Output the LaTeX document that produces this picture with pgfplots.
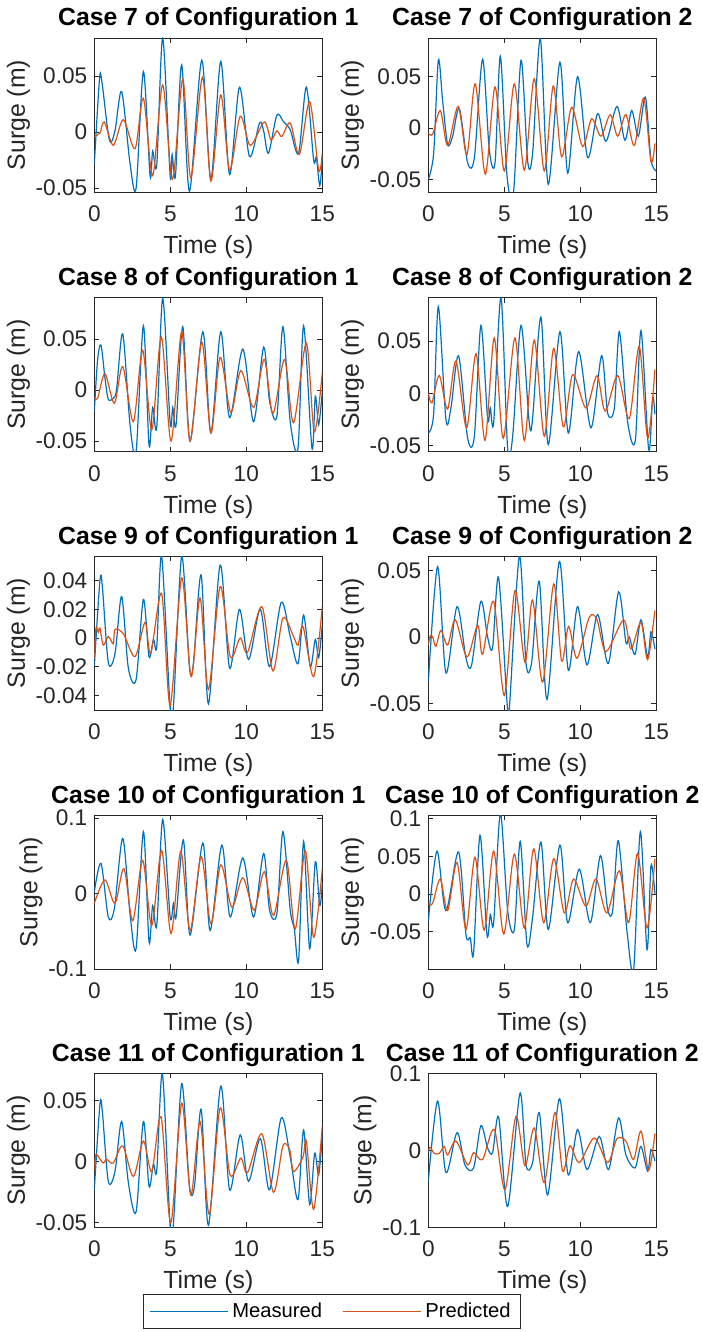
\documentclass[border=0pt]{standalone}
\usepackage{fontspec}
\setmainfont{Liberation Sans}
\usepackage{pgfplots}
\pgfplotsset{compat=1.18}

\definecolor{mblue}{rgb}{0,0.447,0.741}
\definecolor{morange}{rgb}{0.850,0.325,0.098}
\definecolor{axgray}{rgb}{0.15,0.15,0.15}

\newcommand{\ticksize}{\fontsize{11.3}{13}\selectfont}
\newcommand{\labsize}{\fontsize{12.4}{14}\selectfont}
\newcommand{\titsize}{\bfseries\fontsize{12.4}{14}\selectfont}
\newcommand{\legsize}{\fontsize{10.1}{12}\selectfont}

\tikzset{
  meas/.style={color=mblue, line width=0.6pt},
  pred/.style={color=morange, line width=0.6pt},
}

% legend sample drawn on the basic layer so the legend frame colour cannot override it
\newcommand{\legline}[1]{\pgfsetlinewidth{0.6pt}\pgfsetstrokecolor{#1}%
  \pgfpathmoveto{\pgfqpoint{0pt}{0pt}}\pgfpathlineto{\pgfqpoint{39pt}{0pt}}\pgfusepath{stroke}}

\pgfplotsset{
  panel/.style={
    scale only axis, width=114pt, height=77pt, anchor=north west,
    xmin=0, xmax=15, xtick={0,5,10,15}, xticklabels={0,5,10,15},
    scaled y ticks=false,
    tick align=inside, major tick length=2.5pt,
    axis line style={draw=axgray}, every tick/.style={draw=axgray},
    tick label style={font=\ticksize, text=axgray},
    xticklabel style={yshift=-3.4pt},
    xlabel={Time (s)}, ylabel={Surge (m)},
    label style={font=\labsize, text=axgray},
    ylabel shift=-4pt,
    title style={font=\titsize, at={(0.5,1)}, anchor=base, yshift=0pt},
    every axis plot/.append style={smooth, tension=0.5},
  },
  fivesteps/.style={ytick={-0.05,0,0.05}, yticklabels={-0.05,0,0.05}},
}

\begin{document}
\begin{tikzpicture}
\useasboundingbox (0,0) rectangle (351pt,-666pt);

% ---------- row 1 ----------
\begin{axis}[panel, at={(47.15pt,-19pt)}, title={Case 7 of Configuration 1},
  ymin=-0.0536, ymax=0.0839, fivesteps]
\addplot[meas] coordinates {
(0,-0.029) (0.33,0.045) (0.48,0.047) (0.99,-0.007) (1.36,0.001) (1.80,0.036)
(2.35,-0.028) (2.75,-0.050) (3.23,0.054) (3.67,-0.039) (3.84,-0.017) (4.11,-0.029)
(4.50,0.084) (4.99,-0.039) (5.12,-0.020) (5.34,-0.039) (5.75,0.060) (6.26,-0.053)
(7.07,0.064) (7.67,-0.042) (8.32,0.063) (8.90,-0.038) (9.55,0.040) (10.21,-0.022)
(10.87,0.008) (11.14,0.001) (11.46,-0.019) (12.01,0.015) (12.45,0.009) (12.89,0.002)
(13.44,-0.019) (13.95,0.040) (14.43,-0.025) (14.61,-0.023) (14.83,-0.048) (15.0,-0.025)};
\addplot[pred] coordinates {
(0,-0.004) (0.37,-0.001) (0.66,0.009) (1.25,-0.012) (1.91,0.011) (2.68,-0.015)
(3.23,0.030) (3.84,-0.039) (4.50,0.042) (5.14,-0.042) (5.82,0.047) (6.35,-0.041)
(7.12,0.049) (7.67,-0.044) (8.32,0.033) (8.90,-0.034) (9.60,0.014) (10.26,-0.012)
(11.18,0.009) (11.62,-0.007) (12.01,0.001) (12.34,-0.004) (12.89,0.008) (13.49,-0.020)
(14.17,0.027) (14.76,-0.034) (15.0,-0.019)};
\end{axis}

\begin{axis}[panel, at={(214.15pt,-19pt)}, title={Case 7 of Configuration 2},
  ymin=-0.0624, ymax=0.0877, fivesteps]
\addplot[meas] coordinates {
(0,-0.050) (0.35,-0.025) (0.66,0.066) (0.94,0.027) (1.27,-0.016) (1.60,-0.008)
(2.04,0.019) (2.59,-0.034) (3.03,-0.029) (3.57,0.067) (4.01,-0.021) (4.39,-0.034)
(4.74,0.070) (5.18,-0.047) (5.61,-0.062) (6.10,0.066) (6.54,-0.033) (6.86,-0.025)
(7.37,0.087) (7.89,-0.055) (8.66,0.064) (9.17,-0.044) (9.82,0.050) (10.48,-0.029)
(11.14,0.014) (11.69,-0.013) (12.41,0.021) (12.94,-0.012) (13.38,0.017) (13.82,-0.008)
(14.28,0.030) (14.65,-0.031) (15.0,-0.042)};
\addplot[pred] coordinates {
(0,-0.005) (0.29,-0.006) (0.79,0.017) (1.27,-0.017) (1.97,0.021) (2.54,-0.026)
(3.09,0.043) (3.75,-0.045) (4.39,0.040) (5.00,-0.042) (5.66,0.043) (6.32,-0.041)
(6.97,0.048) (7.63,-0.042) (8.22,0.041) (8.77,-0.028) (9.43,0.020) (10.15,-0.018)
(10.75,0.009) (11.36,-0.008) (11.97,0.013) (12.46,-0.008) (13.00,0.013) (13.55,-0.017)
(14.17,0.029) (14.65,-0.033) (14.91,-0.015)};
\end{axis}

% ---------- row 2 ----------
\begin{axis}[panel, at={(47.15pt,-148.85pt)}, title={Case 8 of Configuration 1},
  ymin=-0.0604, ymax=0.0904, fivesteps]
\addplot[meas] coordinates {
(0,-0.021) (0.22,0.030) (0.44,0.044) (0.70,0.012) (0.92,-0.009) (1.25,-0.008)
(1.47,0.001) (1.87,0.055) (2.35,-0.034) (2.75,-0.060) (3.23,0.063) (3.60,-0.054)
(3.84,-0.017) (4.11,-0.036) (4.50,0.090) (4.99,-0.032) (5.16,-0.017) (5.38,-0.034)
(5.82,0.062) (6.30,-0.050) (7.14,0.057) (7.67,-0.042) (8.32,0.057) (8.90,-0.027)
(9.77,0.040) (10.48,-0.031) (11.14,0.042) (11.53,-0.011) (12.01,-0.026) (12.41,0.062)
(12.89,-0.031) (13.40,-0.057) (13.77,0.063) (14.32,-0.057) (14.54,-0.006) (14.76,-0.034)
(15.0,-0.001)};
\addplot[pred] coordinates {
(0,-0.007) (0.22,-0.008) (0.70,0.016) (1.32,-0.013) (1.87,0.023) (2.57,-0.031)
(3.18,0.039) (3.78,-0.039) (4.41,0.052) (5.05,-0.050) (5.75,0.057) (6.30,-0.050)
(7.07,0.047) (7.67,-0.042) (8.28,0.032) (8.98,-0.022) (9.64,0.019) (10.48,-0.017)
(11.18,0.030) (11.75,-0.023) (12.52,0.030) (13.11,-0.032) (13.95,0.046) (14.47,-0.041)
(15.0,0.017)};
\end{axis}

\begin{axis}[panel, at={(214.15pt,-148.85pt)}, title={Case 8 of Configuration 2},
  ymin=-0.0558, ymax=0.0915, fivesteps]
\addplot[meas] coordinates {
(0,-0.038) (0.35,-0.020) (0.66,0.083) (1.16,-0.025) (1.49,-0.014) (1.99,0.036)
(2.59,-0.043) (3.03,-0.041) (3.46,0.065) (3.90,-0.024) (4.08,-0.014) (4.30,-0.028)
(4.78,0.092) (5.22,-0.053) (5.55,-0.041) (6.10,0.065) (6.64,-0.028) (6.86,-0.024)
(7.41,0.073) (7.89,-0.049) (8.66,0.059) (9.21,-0.038) (9.89,0.040) (10.70,-0.033)
(11.40,0.036) (11.80,-0.019) (12.24,-0.014) (12.57,0.059) (13.11,-0.027) (13.62,-0.045)
(13.99,0.060) (14.50,-0.054) (14.76,-0.004) (14.91,-0.020)};
\addplot[pred] coordinates {
(0,0.000) (0.24,-0.009) (0.72,0.017) (1.27,-0.015) (1.82,0.031) (2.52,-0.033)
(3.14,0.038) (3.73,-0.045) (4.34,0.053) (4.93,-0.043) (5.70,0.053) (6.32,-0.045)
(6.97,0.051) (7.63,-0.041) (8.25,0.043) (8.88,-0.032) (9.50,0.018) (10.37,-0.014)
(11.10,0.017) (11.64,-0.017) (12.46,0.017) (13.22,-0.024) (13.88,0.045) (14.43,-0.043)
(14.91,0.023)};
\end{axis}

% ---------- row 3 ----------
\begin{axis}[panel, at={(47.15pt,-278pt)}, title={Case 9 of Configuration 1},
  ymin=-0.0503, ymax=0.0573, ytick={-0.04,-0.02,0,0.02,0.04},
  yticklabels={-0.04,-0.02,0,0.02,0.04}]
\addplot[meas] coordinates {
(0,-0.020) (0.37,0.040) (0.53,0.036) (0.92,-0.017) (1.36,-0.011) (1.80,0.029)
(2.24,-0.021) (2.75,-0.029) (3.23,0.027) (3.60,-0.013) (3.89,-0.001) (4.11,-0.006)
(4.43,0.057) (4.99,-0.049) (5.21,-0.047) (5.75,0.057) (6.26,-0.020) (6.52,-0.018)
(7.03,0.044) (7.51,-0.046) (8.28,0.051) (8.90,-0.021) (9.55,0.020) (10.15,-0.015)
(10.92,0.020) (11.53,-0.020) (12.30,0.025) (12.89,0.001) (13.40,-0.018) (13.77,0.016)
(14.21,-0.020) (14.54,-0.001) (14.76,-0.014) (15.0,0.009)};
\addplot[pred] coordinates {
(0,-0.014) (0.11,0.007) (0.26,0.004) (0.37,0.007) (0.59,-0.005) (0.92,0.001)
(1.25,-0.004) (1.36,0.006) (1.91,0.003) (2.68,-0.013) (3.34,0.011) (3.71,-0.011)
(4.43,0.031) (4.99,-0.047) (5.75,0.042) (6.37,-0.027) (6.96,0.028) (7.51,-0.036)
(8.28,0.036) (8.94,-0.013) (9.60,0.000) (10.08,-0.010) (11.02,0.022) (11.75,-0.023)
(12.41,0.014) (13.11,0.001) (13.40,-0.005) (13.73,0.008) (14.43,-0.027) (15.0,0.022)};
\end{axis}

\begin{axis}[panel, at={(214.15pt,-278pt)}, title={Case 9 of Configuration 2},
  ymin=-0.055, ymax=0.0611, fivesteps]
\addplot[meas] coordinates {
(0,-0.034) (0.61,0.053) (1.16,-0.027) (1.89,0.023) (2.48,-0.016) (2.85,-0.021)
(3.46,0.027) (3.90,0.000) (4.23,-0.008) (4.62,0.045) (5.18,-0.049) (5.33,-0.054)
(5.99,0.061) (6.43,-0.020) (6.80,-0.019) (7.30,0.042) (7.81,-0.047) (8.62,0.057)
(9.21,-0.025) (9.82,0.023) (10.44,-0.021) (11.14,0.017) (11.84,-0.020) (12.52,0.034)
(13.00,-0.004) (13.22,0.000) (13.60,-0.013) (13.99,0.013) (14.43,-0.015) (14.65,0.004)
(14.91,-0.009)};
\addplot[pred] coordinates {
(0,-0.006) (0.13,0.001) (0.29,0.000) (0.50,-0.007) (0.83,0.005) (1.27,-0.006)
(1.78,0.013) (2.54,-0.015) (3.25,0.009) (3.57,-0.013) (4.30,0.027) (5.00,-0.044)
(5.70,0.035) (6.36,-0.019) (6.86,0.028) (7.52,-0.034) (8.25,0.040) (8.77,-0.018)
(9.23,0.008) (9.78,-0.016) (10.59,0.015) (11.10,0.013) (11.69,-0.011) (12.85,0.013)
(13.33,-0.009) (13.99,0.011) (14.43,-0.017) (14.91,0.020)};
\end{axis}

% ---------- row 4 ----------
\begin{axis}[panel, at={(47.15pt,-407.5pt)}, title={Case 10 of Configuration 1},
  ymin=-0.1, ymax=0.104, ytick={-0.1,0,0.1}, yticklabels={-0.1,0,0.1}]
\addplot[meas] coordinates {
(0,0.002) (0.44,0.040) (0.92,-0.031) (1.32,-0.020) (1.87,0.073) (2.35,-0.027)
(2.75,-0.073) (3.23,0.082) (3.60,-0.064) (3.84,-0.016) (4.11,-0.042) (4.50,0.098)
(4.99,-0.031) (5.21,-0.013) (5.38,-0.031) (5.86,0.071) (6.30,-0.055) (7.14,0.067)
(7.62,-0.049) (8.39,0.064) (8.94,-0.031) (9.77,0.047) (10.48,-0.031) (11.14,0.053)
(11.53,-0.022) (12.01,-0.027) (12.41,0.082) (12.89,-0.022) (13.16,-0.047) (13.44,-0.089)
(13.77,0.069) (14.17,-0.073) (14.54,0.042) (14.83,-0.016) (15.0,0.013)};
\addplot[pred] coordinates {
(0,-0.013) (0.70,0.018) (1.36,-0.013) (1.95,0.033) (2.53,-0.036) (3.18,0.044)
(3.78,-0.042) (4.43,0.057) (5.05,-0.053) (5.69,0.056) (6.30,-0.049) (7.03,0.049)
(7.67,-0.040) (8.32,0.038) (9.05,-0.018) (9.77,0.021) (10.52,-0.022) (11.18,0.029)
(11.79,-0.029) (12.63,0.044) (13.22,-0.047) (13.88,0.057) (14.43,-0.058) (15.0,0.033)};
\end{axis}

\begin{axis}[panel, at={(214.15pt,-407.5pt)}, title={Case 10 of Configuration 2},
  ymin=-0.0995, ymax=0.105, ytick={-0.05,0,0.05,0.1},
  yticklabels={-0.05,0,0.05,0.1}]
\addplot[meas] coordinates {
(0,-0.036) (0.57,0.057) (1.16,-0.022) (1.99,0.056) (2.48,-0.054) (2.76,-0.058)
(2.98,-0.078) (3.40,0.078) (3.86,-0.054) (4.08,-0.027) (4.30,-0.038) (4.74,0.107)
(5.22,-0.022) (5.66,-0.047) (6.05,0.070) (6.49,-0.067) (6.86,-0.031) (7.41,0.069)
(7.89,-0.047) (8.66,0.065) (9.17,-0.038) (9.93,0.033) (10.66,-0.038) (11.32,0.051)
(11.80,-0.020) (12.13,-0.022) (12.50,0.071) (13.07,-0.049) (13.51,-0.100) (13.95,0.083)
(14.39,-0.074) (14.65,0.038) (14.91,0.000)};
\addplot[pred] coordinates {
(0,-0.013) (0.29,-0.012) (0.79,0.020) (1.27,-0.022) (1.89,0.042) (2.48,-0.047)
(3.07,0.049) (3.68,-0.048) (4.30,0.057) (4.96,-0.053) (5.66,0.053) (6.32,-0.045)
(6.93,0.060) (7.59,-0.038) (8.25,0.047) (8.95,-0.025) (9.56,0.020) (10.37,-0.016)
(11.03,0.020) (11.75,-0.025) (12.57,0.031) (13.18,-0.038) (13.77,0.054) (14.39,-0.045)
(14.91,0.047)};
\end{axis}

% ---------- row 5 ----------
\begin{axis}[panel, at={(47.15pt,-536.65pt)}, title={Case 11 of Configuration 1},
  ymin=-0.0537, ymax=0.0725, fivesteps,
  legend columns=2,
  legend style={at={(1.042,-0.546)}, anchor=center, font=\legsize,
    draw=axgray, inner xsep=3pt, inner ysep=2pt,
    /tikz/every even column/.append style={column sep=8pt}}]
\addplot[meas, legend image code/.code={\legline{mblue}}] coordinates {
(0,-0.023) (0.37,0.047) (0.53,0.041) (0.92,-0.016) (1.36,-0.008) (1.80,0.033)
(2.24,-0.017) (2.75,-0.041) (3.23,0.033) (3.60,-0.020) (3.89,-0.002) (4.11,-0.007)
(4.48,0.072) (4.99,-0.053) (5.21,-0.050) (5.75,0.064) (6.26,-0.020) (6.59,-0.020)
(7.03,0.043) (7.51,-0.052) (8.32,0.062) (8.90,-0.023) (9.60,0.022) (10.15,-0.016)
(10.92,0.019) (11.53,-0.023) (12.30,0.036) (12.89,0.004) (13.40,-0.031) (13.77,0.026)
(14.17,-0.035) (14.50,0.007) (14.76,-0.011) (15.0,0.022)};
\addlegendentry{Measured}
\addplot[pred, legend image code/.code={\legline{morange}}] coordinates {
(0,-0.007) (0.11,0.006) (0.33,0.003) (0.59,-0.001) (0.81,0.002) (1.25,-0.001)
(1.87,0.013) (2.57,-0.012) (3.23,0.017) (3.78,-0.008) (4.39,0.037) (5.03,-0.050)
(5.75,0.048) (6.35,-0.027) (6.96,0.033) (7.56,-0.043) (8.28,0.044) (8.94,-0.011)
(9.64,0.003) (10.08,-0.009) (11.02,0.023) (11.79,-0.025) (12.41,0.013) (12.85,0.010)
(13.11,-0.008) (13.73,0.004) (13.95,0.017) (14.43,-0.039) (15.0,0.029)};
\addlegendentry{Predicted}
\end{axis}

\begin{axis}[panel, at={(214.15pt,-536.65pt)}, title={Case 11 of Configuration 2},
  ymin=-0.1, ymax=0.1, ytick={-0.1,0,0.1}, yticklabels={-0.1,0,0.1}]
\addplot[meas] coordinates {
(0,-0.040) (0.61,0.064) (1.16,-0.029) (1.89,0.023) (2.41,-0.019) (2.98,-0.023)
(3.46,0.032) (3.90,0.003) (4.23,-0.003) (4.63,0.043) (5.22,-0.073) (6.03,0.074)
(6.43,-0.019) (6.86,-0.016) (7.30,0.049) (7.85,-0.058) (8.62,0.067) (9.21,-0.032)
(9.82,0.027) (10.44,-0.025) (11.25,0.018) (11.86,-0.025) (12.52,0.042) (13.00,-0.006)
(13.60,-0.023) (13.99,0.005) (14.43,-0.027) (14.65,0.001) (14.91,-0.014)};
\addplot[pred] coordinates {
(0,-0.001) (0.13,0.004) (0.39,-0.004) (0.72,-0.004) (1.05,0.005) (1.27,-0.006)
(1.82,0.012) (2.59,-0.019) (2.98,-0.003) (3.57,-0.012) (4.34,0.027) (5.04,-0.051)
(5.77,0.044) (6.36,-0.020) (6.97,0.029) (7.63,-0.042) (8.33,0.049) (8.84,-0.027)
(9.32,0.006) (9.93,-0.016) (10.92,0.016) (11.80,-0.016) (12.41,0.015) (13.00,0.012)
(13.51,-0.012) (13.99,0.025) (14.50,-0.026) (14.91,0.022)};
\end{axis}
\end{tikzpicture}
\end{document}
